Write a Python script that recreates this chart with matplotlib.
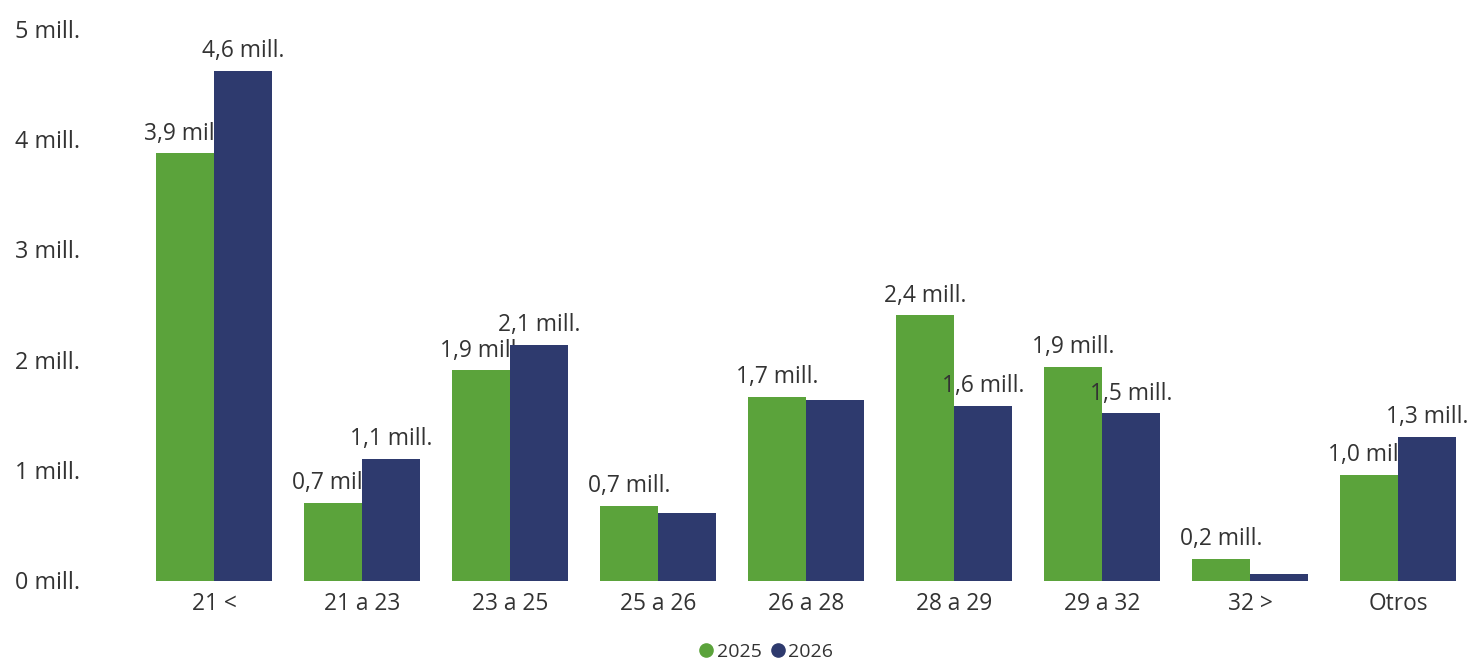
import matplotlib
matplotlib.use("Agg")
import matplotlib.pyplot as plt
import numpy as np
from matplotlib.lines import Line2D

categories = ["21 <", "21 a 23", "23 a 25", "25 a 26", "26 a 28", "28 a 29", "29 a 32", "32 >", "Otros"]
values_2025 = [3.88, 0.71, 1.91, 0.68, 1.67, 2.41, 1.94, 0.20, 0.96]
values_2026 = [4.63, 1.11, 2.14, 0.62, 1.64, 1.59, 1.52, 0.065, 1.31]
show_label_2025 = [True] * 9
show_label_2026 = [True, True, True, False, False, True, True, False, True]
series_names = ["2025", "2026"]
yticks = [0, 1, 2, 3, 4, 5]

c_green = "#5BA33B"
c_navy = "#2E3A6E"
txt = "#333333"

plt.rcParams['font.family'] = ['Open Sans', 'DejaVu Sans']

fig = plt.figure(figsize=(14.81, 6.63), dpi=100)
ax = fig.add_axes([0.0945, 0.1237, 0.8994, 0.8311])

x = np.arange(len(categories))
w = 0.392
ax.bar(x - w/2, values_2025, w, color=c_green, zorder=1)
ax.bar(x + w/2, values_2026, w, color=c_navy, zorder=3)

def fmt(v):
    return f"{v:.1f}".replace('.', ',') + " mill."

FS = 16.4
for xs, vals, shows, z in ((x - w/2, values_2025, show_label_2025, 2),
                           (x + w/2, values_2026, show_label_2026, 4)):
    for xi, v, s in zip(xs, vals, shows):
        if s:
            ax.annotate(fmt(v), (xi, v), xytext=(0, 10), textcoords='offset points',
                        ha='center', va='baseline', fontsize=FS, color=txt, zorder=z,
                        annotation_clip=False)

ax.set_xlim(-0.5, len(categories) - 0.5)
ax.set_ylim(0, 5)
ax.set_xticks(x)
ax.set_xticklabels(categories, fontsize=FS, color=txt)
ax.set_yticks(yticks)
ax.set_yticklabels([])
for t in yticks:
    fig.text(15/1481, 1 - (583 - t*110.2)/663, f"{t} mill.", ha='left', va='center',
             fontsize=16.8, color=txt)
ax.tick_params(axis='both', length=0)
ax.tick_params(axis='x', pad=8)
for s in ax.spines.values():
    s.set_visible(False)

handles = [Line2D([], [], marker='o', linestyle='', markersize=9.5, color=c_green),
           Line2D([], [], marker='o', linestyle='', markersize=9.5, color=c_navy)]
fig.legend(handles, series_names, loc='center', bbox_to_anchor=(765/1481, 1 - 652/663),
           ncol=2, frameon=False, fontsize=14, handletextpad=0.05, columnspacing=0.3,
           handlelength=1.0, labelcolor=txt, borderpad=0)

fig.savefig("out.png", dpi=100, facecolor='white')
